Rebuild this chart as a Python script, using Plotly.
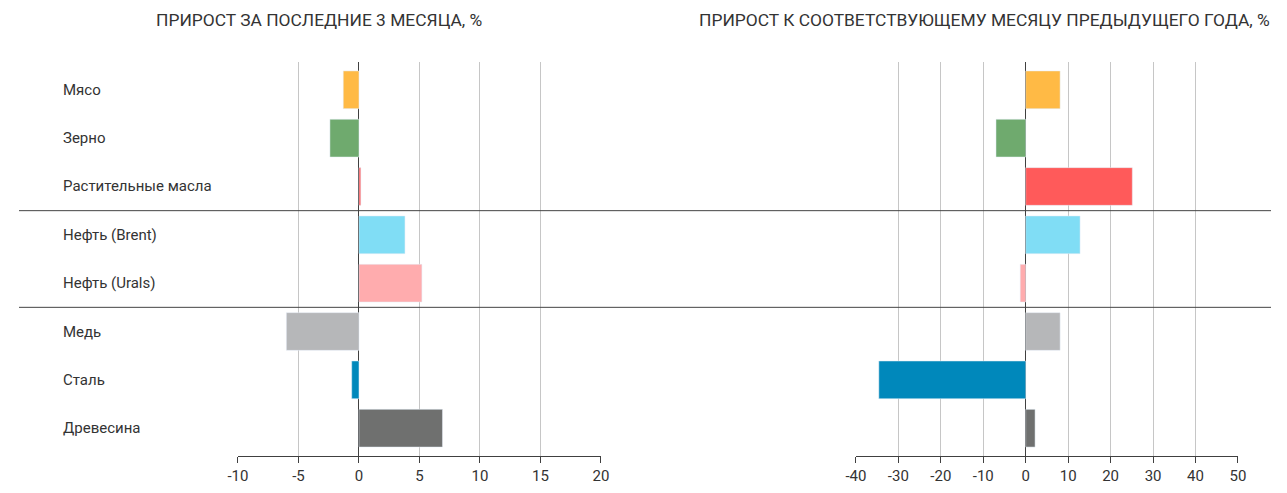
import plotly.graph_objects as go

# commodity rows, top to bottom
categories = ['Мясо', 'Зерно', 'Растительные масла', 'Нефть (Brent)', 'Нефть (Urals)',
              'Медь', 'Сталь', 'Древесина']
growth_3m = [-1.3, -2.4, 0.15, 3.8, 5.2, -6.0, -0.6, 6.9]
growth_yoy = [8.1, -7.0, 25.1, 12.8, -1.3, 8.1, -34.6, 2.2]
colors = ['#FFBA45', '#6FAA6E', '#FF5A5A', '#80DDF5', '#FFACAE', '#B6B7B9', '#0088BB', '#6F706F']

ticks_3m = [-10, -5, 0, 5, 10, 15, 20]
ticks_yoy = [-40, -30, -20, -10, 0, 10, 20, 30, 40, 50]

left_title = 'ПРИРОСТ ЗА ПОСЛЕДНИЕ 3 МЕСЯЦА, %'
right_title = 'ПРИРОСТ К СООТВЕТСТВУЮЩЕМУ МЕСЯЦУ ПРЕДЫДУЩЕГО ГОДА, %'
group_breaks = [2.5, 4.5]

# page body adds 8px margin, so size the figure to fit the window
W, H = 1271, 477
OFF = 8
FONT = 'Roboto'
TXT = '#333333'


def px(x):
    # window pixel -> paper fraction
    return (x - OFF) / W


fig = go.Figure()
fig.add_trace(go.Bar(x=growth_3m, y=categories, orientation='h', marker_color=colors,
                     width=0.78, xaxis='x', yaxis='y', hoverinfo='x+y'))
fig.add_trace(go.Bar(x=growth_yoy, y=categories, orientation='h', marker_color=colors,
                     width=0.78, xaxis='x2', yaxis='y', hoverinfo='x+y'))

axis_style = dict(showgrid=True, gridcolor='#c6c6c6', gridwidth=1,
                  zeroline=True, zerolinecolor='#404040', zerolinewidth=1,
                  showline=True, linecolor='#404040', linewidth=1,
                  ticks='outside', ticklen=6, tickcolor='#404040',
                  tickfont=dict(family=FONT, size=15, color=TXT), fixedrange=True)

fig.update_layout(
    width=W, height=H,
    margin=dict(l=0, r=0, t=62 - OFF, b=H - (465 - OFF)),
    paper_bgcolor='white', plot_bgcolor='white',
    showlegend=False,
    xaxis=dict(domain=[px(230.3), px(598.8)], range=[-10, 20],
               tickvals=ticks_3m, ticktext=[str(t) for t in ticks_3m], **axis_style),
    xaxis2=dict(domain=[px(857.6), px(1245.5)], range=[-40, 50],
                tickvals=ticks_yoy, ticktext=[str(t) for t in ticks_yoy], **axis_style),
    yaxis=dict(categoryorder='array', categoryarray=categories, autorange=False,
               range=[7.575, -0.575], showticklabels=False, showgrid=False,
               zeroline=False, fixedrange=True),
)

# row labels, left aligned
for c in categories:
    fig.add_annotation(x=px(51), xref='paper', y=c, yref='y', text=c, showarrow=False,
                       xanchor='left', font=dict(family=FONT, size=15, color=TXT))

# panel titles
fig.add_annotation(x=px(312.4), y=1, xref='paper', yref='paper', yshift=42, text=left_title,
                   showarrow=False, xanchor='center', yanchor='middle',
                   font=dict(family=FONT, size=17.4, color=TXT))
fig.add_annotation(x=px(987.7), y=1, xref='paper', yref='paper', yshift=42, text=right_title,
                   showarrow=False, xanchor='center', yanchor='middle',
                   font=dict(family=FONT, size=17.4, color=TXT))

# group separators across both panels
for yb in group_breaks:
    fig.add_shape(type='line', xref='paper', yref='y', x0=0, x1=1, y0=yb, y1=yb,
                  line=dict(color='#444444', width=1))

fig.write_html('out.html')
